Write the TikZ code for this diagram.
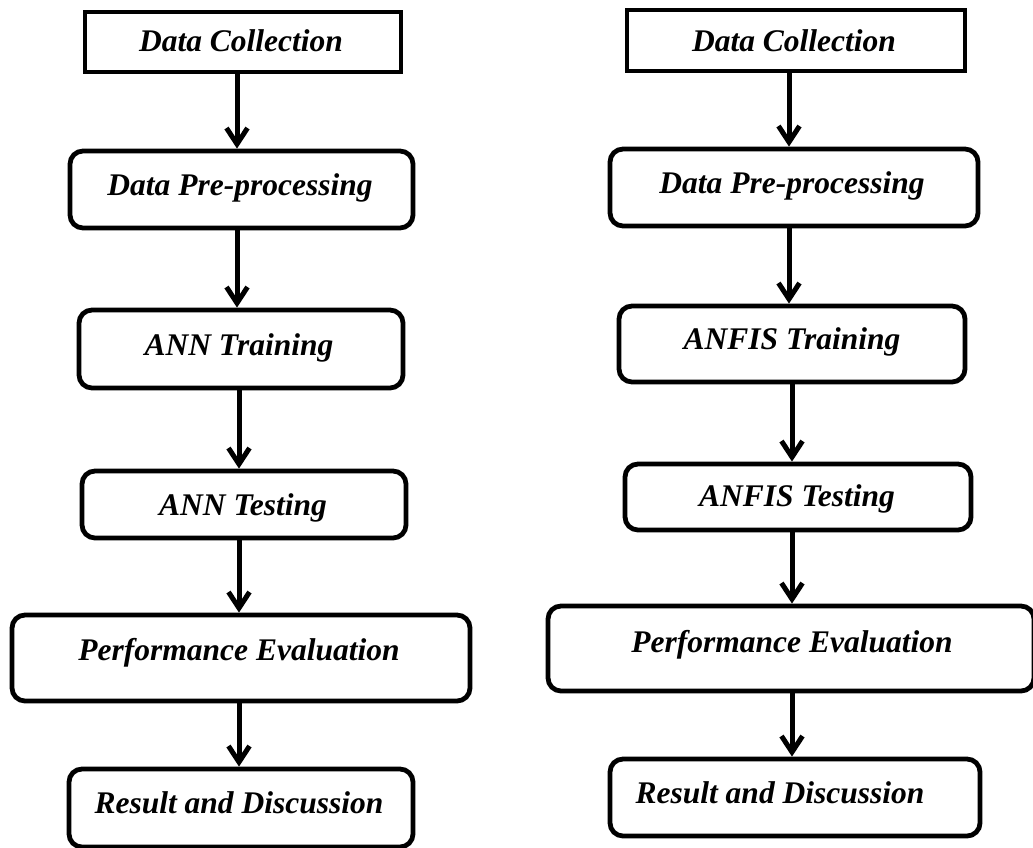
\documentclass[tikz,border=0pt]{standalone}
\usepackage{fontspec}
\setmainfont{Liberation Serif}
\usetikzlibrary{arrows.meta}
\begin{document}
\begin{tikzpicture}[x=1pt,y=-1pt,
  sqbox/.style={draw=black, line width=4.8pt, rectangle, inner sep=0pt},
  rbox/.style={sqbox, rounded corners=13pt},
  lbl/.style={anchor=base, inner sep=0pt, font=\fontsize{31.5}{36}\selectfont\bfseries\itshape},
  arr/.style={draw=black, line width=5pt, -{Straight Barb[length=16pt,width=21pt]}}]
\useasboundingbox (0,0) rectangle (1033,848);
% left column boxes
\node[sqbox, minimum width=316pt, minimum height=60pt] (L1) at (243,42) {};
\node[rbox, minimum width=343pt, minimum height=77pt] (L2) at (241.5,189.5) {};
\node[rbox, minimum width=324pt, minimum height=78pt] (L3) at (241,349) {};
\node[rbox, minimum width=324pt, minimum height=67pt] (L4) at (244,504.5) {};
\node[rbox, minimum width=458pt, minimum height=86pt] (L5) at (241,658) {};
\node[rbox, minimum width=344pt, minimum height=78pt] (L6) at (241,808) {};
% left labels
\node[lbl] (L1t) at (241,52) {Data Collection};
\node[lbl] (L2t) at (240,195) {Data Pre-processing};
\node[lbl] (L3t) at (239,355) {ANN Training};
\node[lbl] (L4t) at (243,515) {ANN Testing};
\node[lbl] (L5t) at (239,660) {Performance Evaluation};
\node[lbl] (L6t) at (239,813) {Result and Discussion};
% right column boxes
\node[sqbox, minimum width=338pt, minimum height=61pt] (R1) at (796,40.5) {};
\node[rbox, minimum width=368pt, minimum height=77pt] (R2) at (794,187.5) {};
\node[rbox, minimum width=346pt, minimum height=76pt] (R3) at (792,344) {};
\node[rbox, minimum width=346pt, minimum height=66pt] (R4) at (798,497) {};
\node[rbox, minimum width=486pt, minimum height=85pt] (R5) at (791,648.5) {};
\node[rbox, minimum width=370pt, minimum height=77pt] (R6) at (795,797.5) {};
% right labels
\node[lbl] (R1t) at (794,52) {Data Collection};
\node[lbl] (R2t) at (792,193) {Data Pre-processing};
\node[lbl] (R3t) at (792,349) {ANFIS Training};
\node[lbl] (R4t) at (797,506) {ANFIS Testing};
\node[lbl] (R5t) at (792,652) {Performance Evaluation};
\node[lbl] (R6t) at (780,803) {Result and Discussion};
% arrow axes
\coordinate (xa) at (237,0);
\coordinate (xb) at (239,0);
\coordinate (xc) at (789,0);
\coordinate (xd) at (792,0);
% left arrows
\draw[arr] (L1.south -| xa) -- (L2.north -| xa);
\draw[arr] (L2.south -| xa) -- (L3.north -| xa);
\draw[arr] (L3.south -| xb) -- (L4.north -| xb);
\draw[arr] (L4.south -| xb) -- (L5.north -| xb);
\draw[arr] (L5.south -| xb) -- (L6.north -| xb);
% right arrows
\draw[arr] (R1.south -| xc) -- (R2.north -| xc);
\draw[arr] (R2.south -| xc) -- (R3.north -| xc);
\draw[arr] (R3.south -| xd) -- (R4.north -| xd);
\draw[arr] (R4.south -| xd) -- (R5.north -| xd);
\draw[arr] (R5.south -| xd) -- (R6.north -| xd);
\end{tikzpicture}
\end{document}
